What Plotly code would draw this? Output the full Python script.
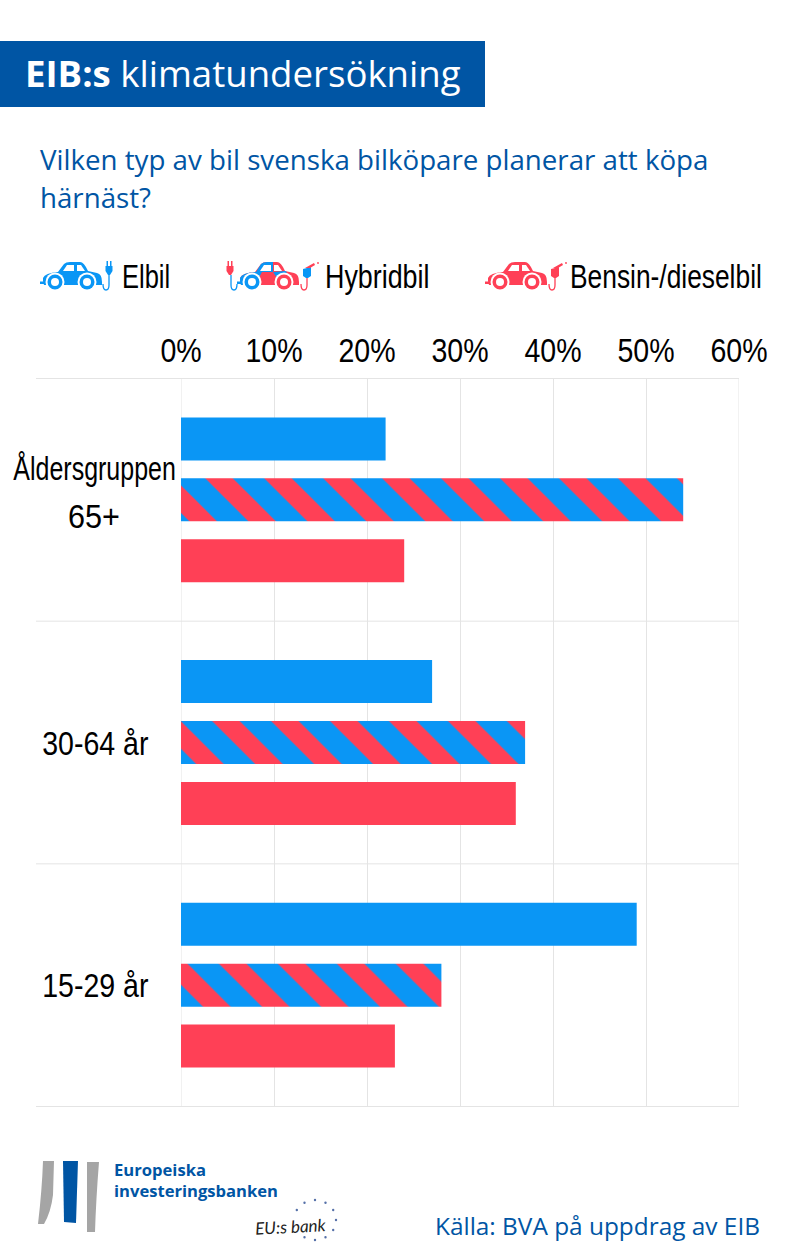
import math
import plotly.graph_objects as go

categories = ["Åldersgruppen 65+", "30-64 år", "15-29 år"]
category_labels = ["Åldersgruppen<br>65+", "30-64 år", "15-29 år"]
elbil = [22, 27, 49]
hybridbil = [54, 37, 28]
bensin = [24, 36, 23]
x_ticks = [0, 10, 20, 30, 40, 50, 60]
x_tick_labels = ["0%", "10%", "20%", "30%", "40%", "50%", "60%"]

BLUE = "#0A96F5"
RED = "#FF4056"
DARK = "#0055A4"
GRID = "#E4E4E4"
NARROW = "Liberation Sans"
SANS = "Open Sans"

W, H = 800, 1259
L, R, T, B = 181, 739, 378, 1107


def px(x):
    return (x - L) / (R - L)


def py(y):
    return 1 - (y - T) / (B - T)


shapes = []
annotations = []


def _join(tokens):
    s = ""
    for t in tokens:
        s += t if t in "MLQCZ" else t + " "
    return s.strip()


def path(points, color, dx=0, dy=0):
    out = []
    for p in points:
        if isinstance(p, str):
            out.append(p)
        else:
            out.append(f"{px(p[0] + dx):.5f},{py(p[1] + dy):.5f}")
    shapes.append(dict(type="path", xref="paper", yref="paper", path=_join(out),
                       fillcolor=color, line=dict(width=0), layer="above"))


def circle(cx, cy, r, color, layer="above"):
    shapes.append(dict(type="circle", xref="paper", yref="paper", x0=px(cx - r), x1=px(cx + r),
                       y0=py(cy + r), y1=py(cy - r), fillcolor=color, line=dict(width=0), layer=layer))


def text(x, y, s, size, color, font, anchor="left", bold=False):
    annotations.append(dict(xref="paper", yref="paper", x=px(x), y=py(y), text=f"<b>{s}</b>" if bold else s,
                            showarrow=False, xanchor=anchor, yanchor="middle", align="center",
                            font=dict(size=size, color=color, family=font)))


BODY = ["M", (3, 18), "Q", (5, 13), (18, 12), "L", (24, 4), "Q", (26, 2), (30, 2), "L", (40, 2),
        "Q", (44, 2), (48, 11), "L", (57, 13), "Q", (62, 14), (62, 22), "L", (62, 25), "L", (4, 25), "L", (3, 21), "Z"]


def car(dx, main, hybrid=False):
    y0 = 260
    path(BODY, main, dx, y0)
    path(["M", (0, 21.5), "L", (8, 21.5), "L", (8, 24), "L", (0, 24), "Z"], BLUE if hybrid else main, dx, y0)
    if hybrid:
        path(["M", (3, 18), "Q", (5, 13), (18, 12), "L", (25, 12), "L", (18, 25), "L", (4, 25), "L", (3, 21), "Z"],
             BLUE, dx, y0)
        path(["M", (19, 12), "L", (24, 4), "Q", (26, 2), (30, 2), "L", (36, 2), "L", (36, 12), "Z"], BLUE, dx, y0)
        path(["M", (36, 12), "L", (48, 11), "L", (50, 12), "L", (42, 21), "Z"], BLUE, dx, y0)
    path(["M", (23, 11), "L", (27, 5), "L", (34, 5), "L", (34, 11), "Z"], "white", dx, y0)
    path(["M", (37, 5), "L", (41, 5), "L", (45, 11), "L", (37, 11), "Z"], "white", dx, y0)
    for wx in (15, 47):
        col = BLUE if hybrid and wx == 15 else main
        circle(dx + wx, y0 + 22, 9.5, "white")
        circle(dx + wx, y0 + 22, 7.5, col)
        circle(dx + wx, y0 + 22, 4, "white")


def plug(x, color):
    path(["M", (x - 3.5, 266), "L", (x + 3.5, 266), "L", (x + 3.5, 271), "L", (x + 1, 275), "L", (x - 1, 275), "L", (x - 3.5, 271), "Z"], color)
    path(["M", (x - 2.5, 261), "L", (x - 1, 261), "L", (x - 1, 266), "L", (x - 2.5, 266), "Z"], color)
    path(["M", (x + 1, 261), "L", (x + 2.5, 261), "L", (x + 2.5, 266), "L", (x + 1, 266), "Z"], color)


def cord(x, color, left=True):
    d = -1 if left else 1
    shapes.append(dict(type="path", xref="paper", yref="paper", layer="above",
                       path=f"M{px(x):.5f},{py(275):.5f} L{px(x):.5f},{py(285):.5f} "
                            f"Q{px(x):.5f},{py(290):.5f} {px(x + 3 * d):.5f},{py(290):.5f} "
                            f"Q{px(x + 6 * d):.5f},{py(290):.5f} {px(x + 6 * d):.5f},{py(284):.5f}",
                       line=dict(color=color, width=1.3)))


def nozzle(x, color, tip):
    path(["M", (x - 4, 269), "L", (x + 4, 267), "L", (x + 4, 276), "L", (x + 1, 278), "L", (x - 1, 278), "L", (x - 4, 276), "Z"], color)
    path(["M", (x - 2, 268), "L", (x + 7, 263), "L", (x + 8, 265), "L", (x + 3, 268), "Z"], tip)
    circle(x + 11, 263, 0.9, RED)


# Header
path(["M", (0, 41), "L", (485, 41), "L", (485, 107), "L", (0, 107), "Z"], DARK)
text(23, 73, "<b>EIB:s</b> klimatundersökning", 36.6, "white", SANS)
text(38, 159, "Vilken typ av bil svenska bilköpare planerar att köpa", 27.7, DARK, SANS)
text(38, 197, "härnäst?", 27.7, DARK, SANS)

# Legend
car(40, BLUE)
plug(109, BLUE)
cord(109, BLUE)
text(120, 276, "Elbil", 34, "black", NARROW)

car(237, RED, hybrid=True)
plug(230, RED)
cord(231, BLUE, left=False)
cord(307, RED)
nozzle(307, BLUE, RED)
text(323, 276, "Hybridbil", 34, "black", NARROW)

car(485, RED)
cord(555, RED)
nozzle(555, RED, RED)
text(568, 276, "Bensin-/dieselbil", 34, "black", NARROW)

# Group separators and the two outer verticals
for pos in (-0.5, 0.5, 1.5, 2.5):
    shapes.append(dict(type="line", xref="paper", yref="y", x0=px(36), x1=1, y0=pos, y1=pos,
                       line=dict(color=GRID, width=1), layer="below"))
for v in (x_ticks[0], x_ticks[-1]):
    shapes.append(dict(type="line", xref="x", yref="paper", x0=v, x1=v, y0=0, y1=1,
                       line=dict(color=GRID, width=1), layer="below"))

# Logo
path(["M", (43, 1161), "L", (54, 1161), "L", (53, 1195), "Q", (51, 1212), (44, 1224), "L", (38, 1224), "Q", (42, 1190), (43, 1161), "Z"], "#A5A5A5")
path(["M", (63, 1161), "L", (78, 1161), "L", (76, 1223), "L", (64, 1222), "Z"], DARK)
path(["M", (87, 1162), "L", (99, 1162), "Q", (96, 1200), (95, 1232), "L", (87, 1232), "Z"], "#A5A5A5")
text(112, 1169, "Europeiska", 16.6, DARK, SANS, bold=True)
text(112, 1190, "investeringsbanken", 16.6, DARK, SANS, bold=True)
annotations.append(dict(xref="paper", yref="paper", x=px(252), y=py(1226), text="<i>EU:s bank</i>", showarrow=False,
                        xanchor="left", yanchor="middle", textangle=-3,
                        font=dict(size=17, color="#222222", family="Lato")))
for k in range(12):
    if k in (5, 6):
        continue
    a = math.radians(k * 30)
    circle(315 + 21 * math.cos(a), 1220 + 20 * math.sin(a), 1.2, "#5570A8")

text(762, 1225, "Källa: BVA på uppdrag av EIB", 24.4, DARK, SANS, anchor="right")

# Category labels, positioned through the y axis
for cat, lab, cx in zip(categories, category_labels, (94, 95, 95)):
    lines = lab.split("<br>")
    shifts = [32, -16] if len(lines) == 2 else [0]
    for line, shift in zip(lines, shifts):
        annotations.append(dict(xref="paper", yref="y", x=px(cx), y=cat, text=line, showarrow=False, xanchor="center",
                                yanchor="middle", yshift=shift, align="center",
                                font=dict(size=34, color="black", family=NARROW)))

fig = go.Figure()
fig.add_bar(name="Elbil", y=categories, x=elbil, orientation="h", marker=dict(color=BLUE, line=dict(width=0)))
fig.add_bar(name="Hybridbil", y=categories, x=hybridbil, orientation="h",
            marker=dict(color=BLUE, line=dict(width=0),
                        pattern=dict(shape="\\", fgcolor=RED, bgcolor=BLUE, size=41.7, solidity=0.47, fillmode="replace")))
fig.add_bar(name="Bensin-/dieselbil", y=categories, x=bensin, orientation="h", marker=dict(color=RED, line=dict(width=0)))

fig.update_layout(
    width=W, height=H, margin=dict(l=L, r=W - R, t=T, b=H - B, pad=0, autoexpand=False),
    paper_bgcolor="white", plot_bgcolor="white", showlegend=False,
    barmode="group", bargap=0.247, bargroupgap=0.295,
    shapes=shapes, annotations=annotations,
    xaxis=dict(side="top", range=[0, 60], tickvals=x_ticks, ticktext=x_tick_labels, showgrid=True, gridcolor=GRID,
               gridwidth=1, zeroline=False, showline=False, ticks="", ticklabelstandoff=8,
               tickfont=dict(size=34, color="black", family=NARROW)),
    yaxis=dict(autorange="reversed", categoryorder="array", categoryarray=categories, showticklabels=False,
               showgrid=False, zeroline=False, showline=False, ticks=""),
)

# Page margin removed; condensed label look via a horizontal text squeeze; stripe phase set per bar.
post = """
document.documentElement.style.margin='0';document.body.style.margin='0';
(function(){
  var left={'Elbil':0.75,'Hybridbil':0.79,'Bensin-/dieselbil':0.775};
  var other={'Åldersgruppen':0.735,'65+':0.9,'30-64 år':0.84,'15-29 år':0.84};
  document.querySelectorAll('.plotly-graph-div svg text').forEach(function(t){
    if(!/Liberation/.test(t.style.fontFamily)) return;
    var s=t.textContent, b=t.getBBox(), isLeft=(s in left);
    var sx=isLeft?left[s]:((s in other)?other[s]:0.84);
    var cx=isLeft?b.x:b.x+b.width/2;
    var old=t.getAttribute('transform')||'';
    t.setAttribute('transform',old+' translate('+cx+',0) scale('+sx+',1) translate('+(-cx)+',0)');
  });
  var offs=[-74,-326,-534];
  var traces=document.querySelectorAll('.plotly-graph-div .barlayer .trace');
  if(traces.length>1){
    traces[1].querySelectorAll('.point path').forEach(function(p,i){
      var m=/url\\(["']?#([^"')]+)/.exec(p.style.fill||p.getAttribute('fill')||'');
      if(!m) return;
      var pat=document.getElementById(m[1]);
      if(pat) pat.setAttribute('patternTransform','translate('+offs[i]+',0)');
    });
  }
})();
"""
fig.write_html("out.html", post_script=post, config={"displayModeBar": False})
